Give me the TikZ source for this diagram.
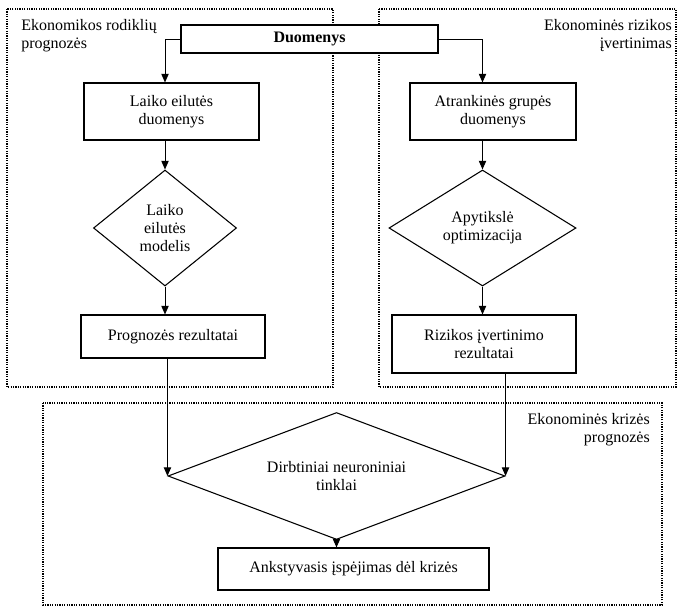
\documentclass[tikz,border=0pt]{standalone}
\usepackage{fontspec}
\setmainfont{Liberation Serif}
\usepackage{tikz}
\usetikzlibrary{shapes,arrows.meta,positioning,calc}

\tikzset{
	blok/.style={draw=black, line width=0.8pt, fill=white, rectangle, align=center, inner sep=0pt},
	rombas/.style={draw=black, line width=0.8pt, fill=white, diamond, align=center, inner sep=0pt},
	grupe/.style={draw=black, line width=0.9pt, dash pattern=on 0.9pt off 0.9pt},
	arr/.style={line width=0.75pt, -{Triangle[length=6.5pt,width=5.5pt]}},
}

\begin{document}
\begin{tikzpicture}[x=0.75pt,y=-0.75pt,font=\fontsize{12}{13.5}\selectfont]
	\useasboundingbox (0,0) rectangle (677,607);
	%
	% groups
	\draw[grupe] (7,9) rectangle (333,387);
	\draw[grupe] (379,9) rectangle (676,387);
	\draw[grupe] (43,403) rectangle (662,605);
	\node[anchor=north west, align=left, inner sep=0pt] (gr1) at (21,19) {Ekonomikos rodiklių\\prognozės};
	\node[anchor=north east, align=right, inner sep=0pt] (gr2) at (672,19) {Ekonominės rizikos\\įvertinimas};
	\node[anchor=north east, align=right, inner sep=0pt] (gr3) at (650,413) {Ekonominės krizės\\prognozės};
	
	% data
	\node[blok, minimum width=192.75pt, minimum height=21pt] (duom) at (309.5,39) {\textbf{Duomenys}};
	
	% left branch
	\node[blok, minimum width=131.25pt, minimum height=42.75pt] (laikod) at (171.5,111.5) {Laiko eilutės\\duomenys};
	\node[rombas, aspect=1.23, minimum width=107.25pt, minimum height=87pt] (dl) at (165,228) {Laiko\\eilutės\\modelis};
	\node[blok, minimum width=138pt, minimum height=32.25pt] (prog) at (173,336.5) {Prognozės rezultatai};
	
	% right branch
	\node[blok, minimum width=124.5pt, minimum height=42.75pt] (atr) at (493,111.5) {Atrankinės grupės\\duomenys};
	\node[rombas, aspect=1.6, minimum width=140.25pt, minimum height=87pt] (da) at (482.5,228) {Apytikslė\\optimizacija};
	\node[blok, minimum width=138pt, minimum height=43.5pt] (riz) at (484,344) {Rizikos įvertinimo\\rezultatai};
	
	% crisis
	\node[rombas, aspect=2.65, minimum width=252.75pt, minimum height=95.25pt] (nn) at (336.5,476) {Dirbtiniai neuroniniai\\tinklai};
	\node[blok, minimum width=203.25pt, minimum height=31.5pt] (ank) at (353.5,569) {Ankstyvasis įspėjimas dėl krizės};
	%
	\draw[arr] (duom.west) -| (dl.north |- laikod.north);
	\draw[arr] (duom.east) -| (da.north |- atr.north);
	\draw[arr] (laikod.south -| dl.north) -- (dl.north);
	\draw[arr] (dl.south) -- (dl.south |- prog.north);
	\draw[arr] (atr.south -| da.north) -- (da.north);
	\draw[arr] (da.south) -- (da.south |- riz.north);
	\draw[arr] (prog.south -| nn.west) -- (nn.west);
	\draw[arr] (riz.south -| nn.east) -- (nn.east);
	\draw[arr] (nn.south) -- (nn.south |- ank.north);
\end{tikzpicture}
\end{document}
